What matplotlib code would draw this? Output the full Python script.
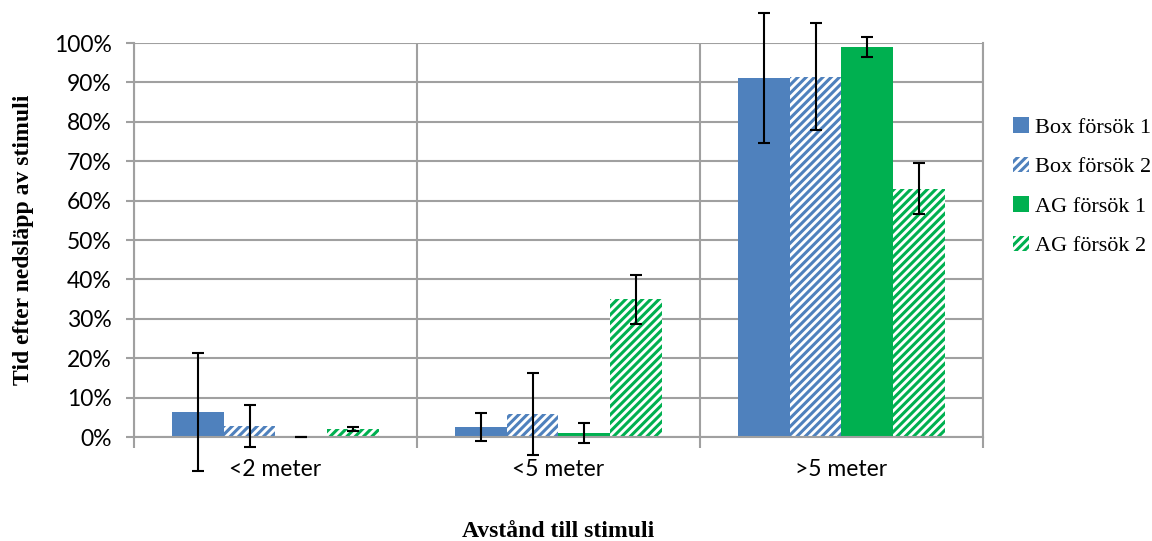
import numpy as np
import matplotlib.pyplot as plt
from matplotlib.ticker import PercentFormatter

categories = ['<2 meter', '<5 meter', '>5 meter']
series = ['Box försök 1', 'Box försök 2', 'AG försök 1', 'AG försök 2']
values = [
    [6.3, 2.5, 91.0],   # Box försök 1
    [2.7, 5.8, 91.5],   # Box försök 2
    [0.0, 1.0, 99.0],   # AG försök 1
    [2.0, 35.0, 63.0],  # AG försök 2
]
errors = [
    [14.9, 3.6, 16.5],
    [5.3, 10.4, 13.5],
    [0.0, 2.5, 2.5],
    [0.5, 6.2, 6.5],
]

blue = '#4F81BD'
green = '#00B050'
colors = [blue, blue, green, green]
hatched = [False, True, False, True]

plt.rcParams['hatch.linewidth'] = 2.2
fig = plt.figure(figsize=(11.52, 5.41), dpi=100)
ax = fig.add_axes([0.1163, 0.1922, 0.7370, 0.7283])

x = np.arange(len(categories))
w = 0.183
for i, name in enumerate(series):
    pos = x + (i - 1.5) * w
    if hatched[i]:
        ax.bar(pos, values[i], w, facecolor='white', edgecolor=colors[i],
               hatch='////', linewidth=0, label=name, zorder=2)
    else:
        ax.bar(pos, values[i], w, color=colors[i], linewidth=0,
               label=name, zorder=2)
    ax.errorbar(pos, values[i], yerr=errors[i], fmt='none', ecolor='black',
                elinewidth=1.5, capsize=4, capthick=1.5, zorder=3, clip_on=False)

ax.set_xlim(-0.5, 2.5)
ax.set_ylim(0, 100)
ax.set_yticks(np.arange(0, 101, 10))
ax.yaxis.set_major_formatter(PercentFormatter(decimals=0))
ax.set_xticks(x)
ax.set_xticklabels(categories)
ax.set_xticks([-0.5, 0.5, 1.5, 2.5], minor=True)
ax.tick_params(axis='x', which='major', length=0, pad=16)
ax.tick_params(axis='x', which='minor', length=8, color='#A0A0A0', width=1.5)
ax.tick_params(axis='y', length=6, color='#A0A0A0', width=1.5, pad=10)
for lab in ax.get_xticklabels() + ax.get_yticklabels():
    lab.set_fontfamily(['Lato', 'DejaVu Sans'])
    lab.set_fontsize(16.5)

ax.grid(axis='y', color='#A0A0A0', linewidth=1.5, zorder=0)
ax.grid(axis='x', which='minor', color='#A0A0A0', linewidth=1.5, zorder=0)
ax.spines['top'].set_visible(False)
for s in ['left', 'right', 'bottom']:
    ax.spines[s].set_color('#A0A0A0')
    ax.spines[s].set_linewidth(1.5)
ax.set_axisbelow(True)

ax.set_ylabel('Tid efter nedsläpp av stimuli', fontfamily='Liberation Serif',
              fontweight='bold', fontsize=17, labelpad=14)
ax.set_xlabel('Avstånd till stimuli', fontfamily='Liberation Serif',
              fontweight='bold', fontsize=17, labelpad=29)

ax.legend(loc='center left', bbox_to_anchor=(1.012, 0.635), frameon=False,
          prop={'family': 'Liberation Serif', 'size': 16},
          handlelength=0.7, handleheight=0.7, handletextpad=0.3,
          labelspacing=0.85)

fig.savefig('out.png', dpi=100)
